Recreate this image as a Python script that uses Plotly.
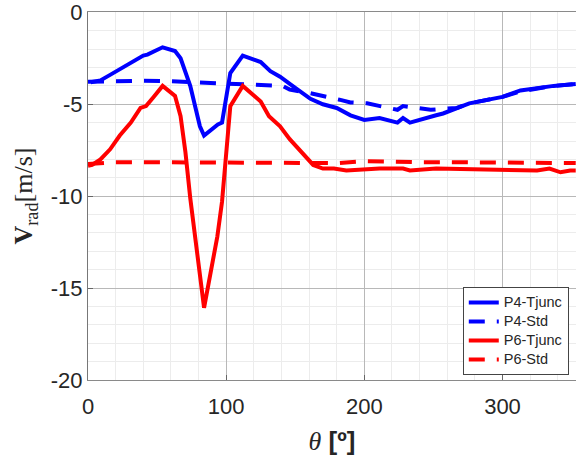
import plotly.graph_objects as go

# P4-Tjunc
theta_p4t = [2, 9, 16, 28, 40, 43, 54, 63, 67, 74, 81, 84, 94, 97, 103, 112, 125, 132, 139, 149,
             161, 170, 180, 190, 200, 211, 224, 228, 233, 252, 257, 276, 300, 313, 337, 353]
p4_tjunc = [-3.8, -3.7, -3.4, -2.9, -2.35, -2.3, -1.9, -2.1, -2.5, -4.0, -6.2, -6.7, -6.1, -6.0, -3.3,
            -2.35, -2.7, -3.2, -3.5, -4.05, -4.7, -5.0, -5.2, -5.6, -5.85, -5.75, -6.0, -5.75, -6.0,
            -5.6, -5.5, -4.95, -4.6, -4.25, -4.0, -3.9]

# P4-Std
theta_p4s = [0, 20, 40, 60, 69, 80, 98, 115, 141, 146, 161, 182, 190, 202, 211, 224, 228, 248,
             267, 276, 300, 313, 337, 353]
p4_std = [-3.78, -3.75, -3.72, -3.75, -3.78, -3.85, -3.87, -3.92, -4.0, -4.2, -4.4, -4.75, -4.9,
          -4.95, -5.1, -5.3, -5.1, -5.3, -5.2, -4.95, -4.6, -4.3, -4.0, -3.9]

# P6-Tjunc
theta_p6t = [0, 3, 9, 16, 23, 31, 38, 42, 47.5, 54, 63, 67, 70.5, 74, 84, 93.6, 97, 103, 112, 125,
             131, 139, 146, 156, 163, 170, 178, 187, 211, 228, 233, 252, 301, 325, 334, 342, 349, 353]
p6_tjunc = [-8.35, -8.3, -8.0, -7.45, -6.7, -6.0, -5.2, -5.1, -4.6, -4.0, -4.55, -5.65, -7.6, -10.1,
            -16.07, -12.2, -10.3, -5.1, -4.0, -4.85, -5.65, -6.2, -6.9, -7.7, -8.3, -8.5, -8.5, -8.6,
            -8.5, -8.5, -8.6, -8.5, -8.55, -8.6, -8.5, -8.7, -8.6, -8.6]

# P6-Std
theta_p6s = [0, 20, 40, 60, 80, 100, 120, 140, 160, 180, 200, 220, 240, 260, 280, 300, 320, 340, 353]
p6_std = [-8.25, -8.15, -8.15, -8.15, -8.2, -8.2, -8.15, -8.15, -8.15, -8.2, -8.1, -8.15, -8.15,
          -8.15, -8.15, -8.15, -8.15, -8.15, -8.2]

series_names = ["P4-Tjunc", "P4-Std", "P6-Tjunc", "P6-Std"]
x_ticks = [0, 100, 200, 300]
y_ticks = [0, -5, -10, -15, -20]

BLUE = "#0000ff"
RED = "#ff0000"
DASH = "16px,12px"
LW = 4


def lname(s):
    return '<span style="font-size:14.5px">' + s + '</span>'


fig = go.Figure()
fig.add_trace(go.Scatter(x=theta_p4t, y=p4_tjunc, mode="lines", name=lname(series_names[0]),
                         line=dict(color=BLUE, width=LW)))
fig.add_trace(go.Scatter(x=theta_p4s, y=p4_std, mode="lines", name=lname(series_names[1]),
                         line=dict(color=BLUE, width=LW, dash=DASH)))
fig.add_trace(go.Scatter(x=theta_p6t, y=p6_tjunc, mode="lines", name=lname(series_names[2]),
                         line=dict(color=RED, width=LW)))
fig.add_trace(go.Scatter(x=theta_p6s, y=p6_std, mode="lines", name=lname(series_names[3]),
                         line=dict(color=RED, width=LW, dash=DASH)))

tickfont = dict(family="Liberation Sans, Arial", size=22, color="#262626")

fig.update_layout(
    width=576, height=459,
    margin=dict(l=88, r=0, t=8, b=79),
    paper_bgcolor="white", plot_bgcolor="white",
    showlegend=True,
    legend=dict(x=0.768, y=0.253, xanchor="left", yanchor="top",
                bgcolor="white", bordercolor="#444", borderwidth=1,
                font=dict(family="Liberation Sans, Arial", size=12, color="#262626"),
                tracegroupgap=0, itemwidth=30),
    xaxis=dict(range=[0, 353.2], tickvals=x_ticks, ticktext=[str(v) for v in x_ticks],
               tickfont=tickfont, showline=True, linecolor="#8a8a8a", linewidth=1, mirror=True,
               showgrid=True, gridcolor="#b8b8b8", gridwidth=1, zeroline=False,
               ticks="inside", ticklen=5, tickcolor="#666", ticklabelstandoff=7,
               minor=dict(dtick=20, showgrid=True, gridcolor="#ececec", gridwidth=1),
               title=dict(text='<span style="font-family:Liberation Serif"><i>θ</i></span> <b>[º]</b>',
                          font=dict(family="Liberation Sans, Arial", size=26, color="#262626"),
                          standoff=13)),
    yaxis=dict(range=[-20, 0.02], tickvals=y_ticks, ticktext=[str(v) for v in y_ticks],
               tickfont=tickfont, showline=True, linecolor="#777", linewidth=1, mirror=False,
               showgrid=True, gridcolor="#b8b8b8", gridwidth=1, zeroline=False,
               ticks="inside", ticklen=5, tickcolor="#666", ticklabeloverflow="allow",
               minor=dict(dtick=1, showgrid=True, gridcolor="#ececec", gridwidth=1),
               title=dict(text="<b>V</b><sub>rad</sub>[m/s]",
                          font=dict(family="Liberation Serif, Times New Roman", size=26, color="#262626"),
                          standoff=10)),
)

fig.write_html("out.html")
